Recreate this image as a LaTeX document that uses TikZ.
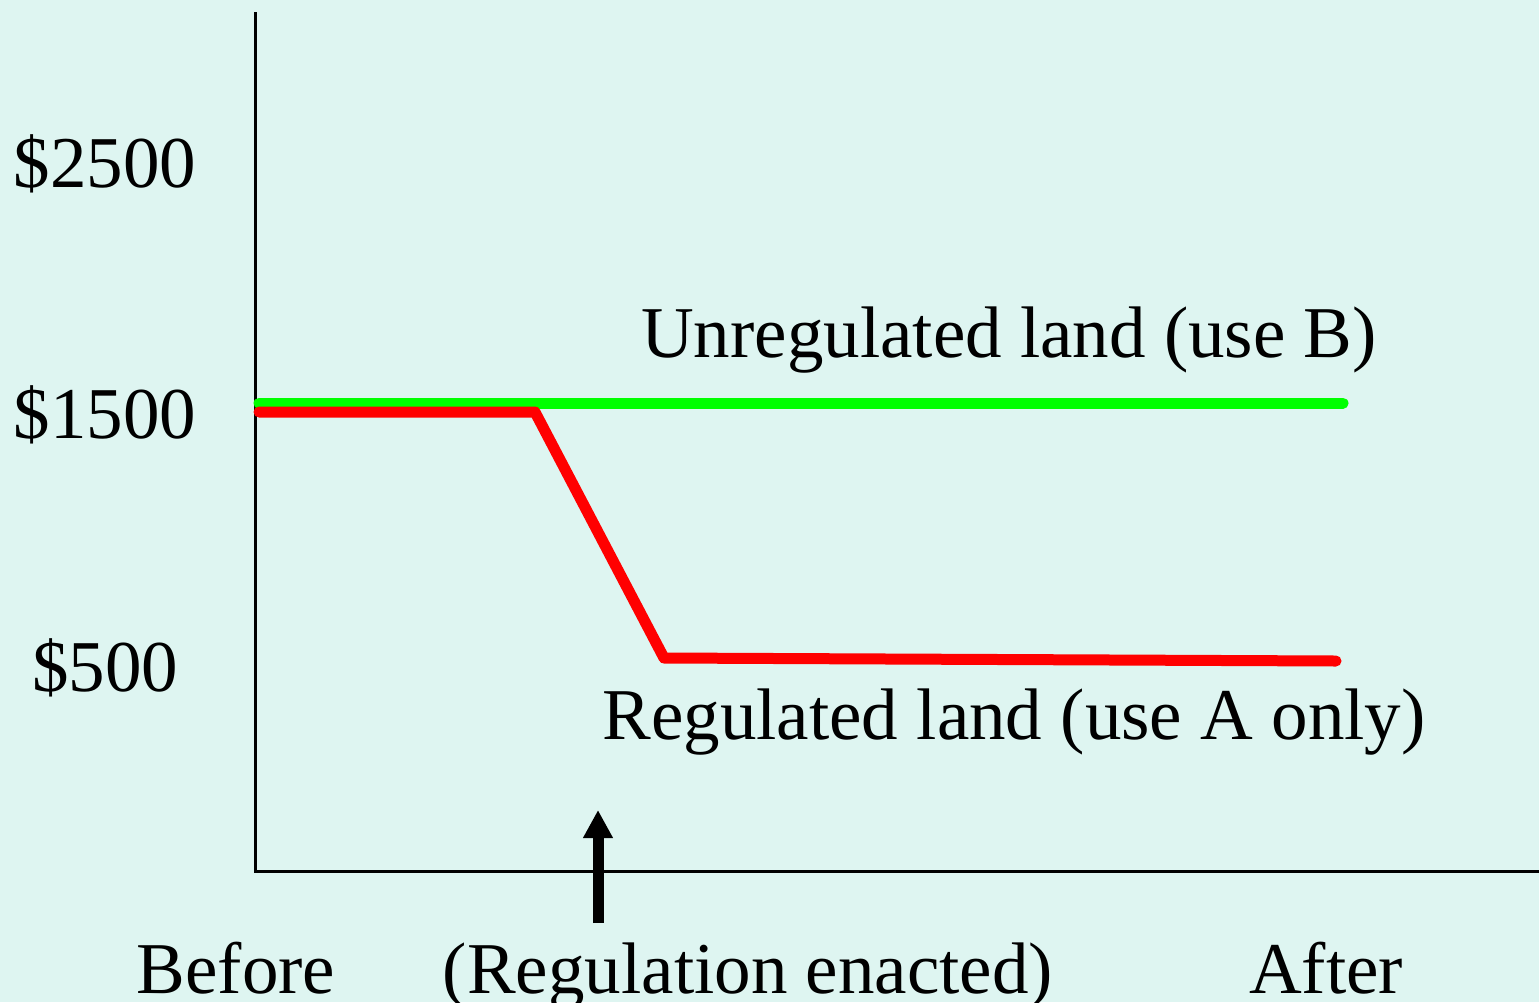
\documentclass[tikz,border=0pt]{standalone}
\usepackage{fontspec}
\setmainfont{Liberation Serif}
\usetikzlibrary{arrows.meta}
\definecolor{bgc}{RGB}{222,245,241}
\definecolor{grn}{RGB}{0,255,0}
\definecolor{rd}{RGB}{255,0,0}
\tikzset{
  lbl/.style={inner sep=0pt, anchor=base, font=\fontsize{73}{87}\selectfont},
  axisline/.style={line width=3pt, black},
  series/.style={line width=11pt, line cap=round, line join=round},
}
\begin{document}
\begin{tikzpicture}[x=1pt,y=-1pt]
\fill[bgc] (0,0) rectangle (1539,1002);
\useasboundingbox (0,0) rectangle (1539,1002);
% axes
\coordinate (top) at (255,12);
\coordinate (origin) at (255,871);
\coordinate (right) at (1539,871);
\draw[axisline] (top) -- (origin) -- (right);
% y labels
\node[lbl] (y2500) at (105,187) {\$2500};
\node[lbl] (y1500) at (105,438) {\$1500};
\node[lbl] (y500) at (105,691) {\$500};
% green series
\coordinate (g1) at (259,403);
\coordinate (g2) at (1343,403);
\draw[series, grn] (g1) -- (g2);
% red series
\coordinate (r1) at (259,412);
\coordinate (r2) at (535,412);
\coordinate (r3) at (664,658);
\coordinate (r4) at (1336,661);
\draw[series, rd] (r1) -- (r2) -- (r3) -- (r4);
% series labels
\node[lbl] (unreg) at (1009,357) {Unregulated land (use B)};
\node[lbl] (reg) at (1014,739) {Regulated land (use A only)};
% arrow
\coordinate (abot) at (598,923);
\coordinate (atop) at (598,810);
\draw[line width=11pt, -{Triangle[width=28pt,length=28pt]}] (abot) -- (atop);
% x labels
\node[lbl] (before) at (236,993) {Before};
\node[lbl] (enact) at (748,993) {(Regulation enacted)};
\node[lbl] (after) at (1326,993) {After};
\end{tikzpicture}
\end{document}
